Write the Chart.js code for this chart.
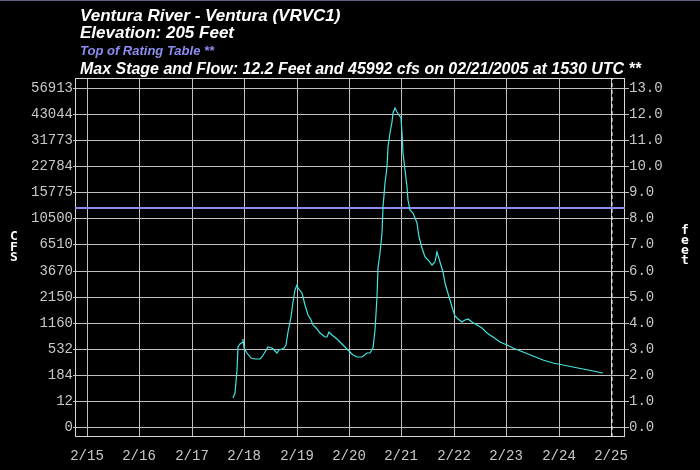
<!DOCTYPE html>
<html>
<head>
<meta charset="utf-8">
<title>Ventura River - Ventura (VRVC1)</title>
<script src="https://cdn.jsdelivr.net/npm/chart.js@4.4.0/dist/chart.umd.min.js"></script>
<style>
  html, body { margin: 0; padding: 0; background: #000; }
  canvas { display: block; }
</style>
</head>
<body>
<canvas id="hydro" width="700" height="470"></canvas>
<script>
// observed stage, hours since 02/15 00:00
const obsHours = [
  67.0, 67.8, 68.6, 69.3, 70.1, 71.3, 71.6, 72.0, 73.1, 75.1,
  76.9, 79.2, 80.0, 81.5, 83.0, 84.6, 86.1, 87.2, 88.1, 89.2,
  90.4, 91.1, 92.2, 93.3, 94.2, 95.3, 96.0, 96.8, 98.3, 99.8,
  101.4, 102.5, 103.4, 105.2, 106.7, 109.0, 110.1, 111.0, 112.1, 114.4,
  117.4, 119.7, 122.0, 123.5, 125.8, 128.1, 129.6, 130.9, 131.9, 132.7,
  133.4, 134.2, 135.0, 135.7, 136.5, 137.3, 138.0, 138.8, 139.6, 140.3,
  141.1, 141.8, 143.0, 143.7, 144.1, 144.9, 145.6, 146.4, 147.2, 147.9,
  149.5, 151.0, 152.2, 153.3, 154.8, 156.3, 157.9, 159.4, 160.5, 161.7,
  162.9, 164.0, 165.0, 166.3, 167.5, 168.5, 170.1, 171.6, 173.1, 174.6,
  176.2, 178.5, 180.8, 183.1, 186.1, 189.2, 192.2, 195.3, 199.8, 204.4,
  209.0, 213.6, 218.2, 222.7, 227.3, 231.9, 236.5
];
const obsStage = [
  1.10, 1.29, 2.19, 3.08, 3.18, 3.27, 3.37, 3.02, 2.83, 2.63,
  2.60, 2.60, 2.67, 2.89, 3.06, 3.02, 2.93, 2.83, 2.95, 2.99,
  3.02, 3.14, 3.65, 4.23, 4.80, 5.25, 5.44, 5.32, 5.13, 4.68,
  4.29, 4.10, 3.91, 3.75, 3.59, 3.46, 3.46, 3.63, 3.53, 3.36,
  3.14, 2.95, 2.76, 2.70, 2.67, 2.83, 2.85, 3.02, 3.72, 4.98,
  6.10, 6.66, 7.43, 8.45, 9.34, 9.98, 10.75, 11.26, 11.71, 12.03,
  12.22, 12.09, 11.96, 11.84, 11.26, 10.49, 9.85, 9.21, 8.70, 8.32,
  8.19, 7.81, 7.30, 6.85, 6.53, 6.40, 6.21, 6.34, 6.72, 6.34,
  5.95, 5.51, 5.25, 4.87, 4.49, 4.26, 4.13, 4.04, 4.10, 4.13,
  4.04, 3.91, 3.78, 3.59, 3.44, 3.27, 3.14, 3.02, 2.89, 2.72,
  2.57, 2.47, 2.38, 2.29, 2.21, 2.15, 2.08
];

const dayLabels = ['2/15', '2/16', '2/17', '2/18', '2/19', '2/20', '2/21', '2/22', '2/23', '2/24', '2/25'];
const stageTicks = [0, 1, 2, 3, 4, 5, 6, 7, 8, 9, 10, 11, 12, 13];
const flowLabels = ['0', '12', '184', '532', '1160', '2150', '3670', '6510', '10500', '15775', '22784', '31773', '43044', '56913'];

const ratingTopFt = 8.4;   // top of rating table
const nowHours = 240.5;    // dashed "current time" marker

const xMin = -5.5, xMax = 246.4;
const yMin = -0.38, yMax = 13.38;

const tickColor = '#c8c8c8';
const gridColor = '#c0c0c0';
const monoFont = { family: '"Liberation Mono", "DejaVu Sans Mono", monospace', size: 14 };

// titles, axis letters and frame
const decorations = {
  id: 'decorations',
  beforeDatasetsDraw(chart) {
    const { ctx, chartArea: a } = chart;
    ctx.save();
    ctx.strokeStyle = '#d8d8d8';
    ctx.lineWidth = 1;
    ctx.strokeRect(Math.round(a.left) + 0.5, Math.round(a.top) + 0.5,
      Math.round(a.right - a.left) - 1, Math.round(a.bottom - a.top) - 1);
    ctx.restore();
  },
  afterDraw(chart) {
    const ctx = chart.ctx;
    ctx.save();
    ctx.strokeStyle = '#5c5c80';
    ctx.beginPath();
    ctx.moveTo(0, 0.5);
    ctx.lineTo(700, 0.5);
    ctx.stroke();

    ctx.textAlign = 'left';
    ctx.textBaseline = 'alphabetic';
    ctx.fillStyle = '#ffffff';
    ctx.font = 'italic bold 17px "Liberation Sans", Arial, sans-serif';
    ctx.fillText('Ventura River - Ventura (VRVC1)', 80, 21, 275);
    ctx.fillText('Elevation: 205 Feet', 80, 38, 162);
    ctx.fillStyle = '#8c8cf0';
    ctx.font = 'italic bold 13px "Liberation Sans", Arial, sans-serif';
    ctx.fillText('Top of Rating Table **', 80, 55, 143);
    ctx.fillStyle = '#ffffff';
    ctx.font = 'italic bold 16px "Liberation Sans", Arial, sans-serif';
    ctx.fillText('Max Stage and Flow: 12.2 Feet and 45992 cfs on 02/21/2005 at 1530 UTC **', 80, 74, 561);

    ctx.textAlign = 'center';
    ctx.textBaseline = 'middle';
    ctx.font = 'bold 13px "DejaVu Sans Mono", monospace';
    ['C', 'F', 'S'].forEach((c, i) => ctx.fillText(c, 14, 237 + i * 10.5));
    ['f', 'e', 'e', 't'].forEach((c, i) => ctx.fillText(c, 685, 231 + i * 10));
    ctx.restore();
  }
};

new Chart(document.getElementById('hydro'), {
  type: 'line',
  data: {
    datasets: [
      {
        label: 'Observed stage',
        data: obsHours.map((h, i) => ({ x: h, y: obsStage[i] })),
        borderColor: '#44e4e0',
        borderWidth: 1.2,
        pointRadius: 0,
        tension: 0
      },
      {
        label: 'Top of Rating Table',
        data: [{ x: xMin, y: ratingTopFt }, { x: xMax, y: ratingTopFt }],
        borderColor: '#8c8cf0',
        borderWidth: 2,
        pointRadius: 0
      },
      {
        label: 'Now',
        data: [{ x: nowHours, y: yMin }, { x: nowHours, y: yMax }],
        borderColor: '#ffffff',
        borderWidth: 1,
        borderDash: [4, 3],
        pointRadius: 0
      }
    ]
  },
  options: {
    responsive: false,
    animation: false,
    devicePixelRatio: 1,
    layout: { padding: { top: 78, left: 0, right: 0, bottom: 0 } },
    plugins: { legend: { display: false }, tooltip: { enabled: false } },
    scales: {
      x: {
        type: 'linear',
        position: 'bottom',
        min: xMin,
        max: xMax,
        alignToPixels: true,
        afterBuildTicks: s => { s.ticks = dayLabels.map((_, i) => ({ value: i * 24 })); },
        afterFit: s => { s.height = 33; },
        ticks: {
          color: tickColor,
          font: monoFont,
          padding: 11,
          maxRotation: 0,
          autoSkip: false,
          callback: v => dayLabels[Math.round(v / 24)]
        },
        grid: { color: gridColor, lineWidth: 1, tickLength: 0 },
        border: { display: false }
      },
      y: {
        type: 'linear',
        position: 'left',
        min: yMin,
        max: yMax,
        alignToPixels: true,
        afterBuildTicks: s => { s.ticks = stageTicks.map(v => ({ value: v })); },
        afterFit: s => { s.width = 75; },
        ticks: {
          color: tickColor,
          font: monoFont,
          padding: 0,
          autoSkip: false,
          callback: v => flowLabels[Math.round(v)]
        },
        grid: { color: gridColor, lineWidth: 1, tickLength: 2 },
        border: { display: false }
      },
      y2: {
        type: 'linear',
        position: 'right',
        min: yMin,
        max: yMax,
        alignToPixels: true,
        afterBuildTicks: s => { s.ticks = stageTicks.map(v => ({ value: v })); },
        afterFit: s => { s.width = 75; },
        ticks: {
          color: tickColor,
          font: monoFont,
          padding: 0,
          autoSkip: false,
          callback: v => v.toFixed(1)
        },
        grid: { color: gridColor, lineWidth: 1, tickLength: 4, drawOnChartArea: false },
        border: { display: false }
      }
    }
  },
  plugins: [decorations]
});
</script>
</body>
</html>
